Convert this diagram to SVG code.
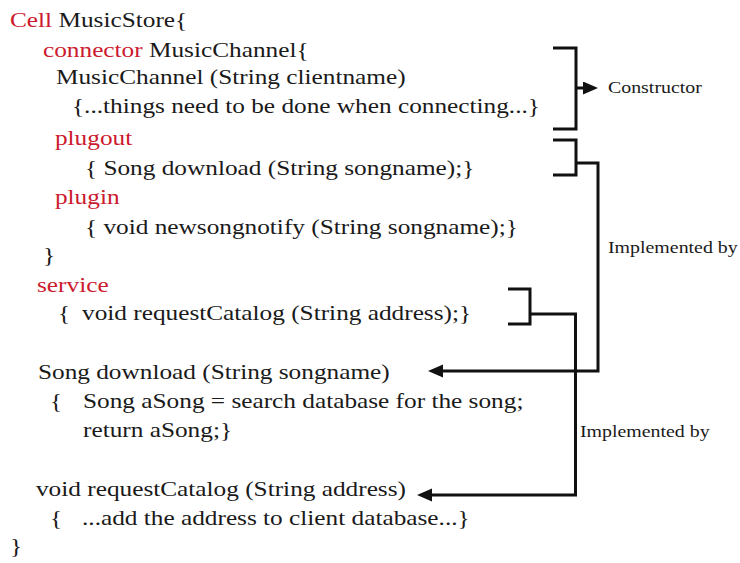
<svg xmlns="http://www.w3.org/2000/svg" width="740" height="563" viewBox="0 0 740 563">
  <style>
    .code { font-family: "Liberation Serif", "Times New Roman", serif; font-size: 22px; fill: #1a1a1a; }
    .kw { fill: #cc1a2e; }
    .note { font-family: "Liberation Serif", "Times New Roman", serif; font-size: 17.3px; fill: #1a1a1a; }
    .wire { fill: none; stroke: #111; stroke-width: 3; stroke-linejoin: miter; }
  </style>
  <defs>
    <marker id="head" markerUnits="userSpaceOnUse" markerWidth="16" markerHeight="14" refX="1" refY="6.5" orient="auto">
      <path d="M0,0 L15,6.5 L0,13 Z" fill="#111"/>
    </marker>
  </defs>
  <rect width="740" height="563" fill="#ffffff"/>

  <!-- text is set in a horizontally widened serif -->
  <g transform="scale(1.15 1)">
    <g id="cell-header">
      <text class="code" x="8.7" y="27"><tspan class="kw">Cell</tspan> MusicStore{</text>
    </g>
    <g id="connector-block">
      <text class="code" x="37.4" y="57"><tspan class="kw">connector</tspan> MusicChannel{</text>
      <text class="code" x="48.7" y="84">MusicChannel (String clientname)</text>
      <text class="code" x="62.6" y="113">{...things need to be done when connecting...}</text>
      <text class="code kw" x="47.8" y="145">plugout</text>
      <text class="code" x="73.9" y="175">{ Song download (String songname);}</text>
      <text class="code kw" x="47.8" y="204">plugin</text>
      <text class="code" x="73.9" y="234">{ void newsongnotify (String songname);}</text>
      <text class="code" x="37.4" y="262">}</text>
    </g>
    <g id="service-block">
      <text class="code kw" x="32.2" y="292">service</text>
      <text class="code" x="50.4" y="320">{</text>
      <text class="code" x="71.3" y="320">void requestCatalog (String address);}</text>
    </g>
    <g id="download-impl">
      <text class="code" x="33" y="379">Song download (String songname)</text>
      <text class="code" x="43.5" y="408">{</text>
      <text class="code" x="72.2" y="408">Song aSong = search database for the song;</text>
      <text class="code" x="72.2" y="437">return aSong;}</text>
    </g>
    <g id="catalog-impl">
      <text class="code" x="31.3" y="496">void requestCatalog (String address)</text>
      <text class="code" x="43.5" y="525">{</text>
      <text class="code" x="71.3" y="525">...add the address to client database...}</text>
      <text class="code" x="8.7" y="553">}</text>
    </g>
    <g id="labels">
      <text class="note" x="528.7" y="93">Constructor</text>
      <text class="note" x="528.7" y="253">Implemented by</text>
      <text class="note" x="504.3" y="437">Implemented by</text>
    </g>
  </g>

  <g id="connectors">
    <!-- constructor bracket -->
    <path class="wire" d="M553,48 H576 V129 H553"/>
    <path class="wire" d="M576,88 H584" marker-end="url(#head)"/>
    <!-- plugout bracket to its implementation -->
    <path class="wire" d="M553,140 H576 V175 H553"/>
    <path class="wire" d="M576,163 H598 V371 H442" marker-end="url(#head)"/>
    <!-- service bracket to its implementation -->
    <path class="wire" d="M508,289 H530 V324 H508"/>
    <path class="wire" d="M530,314 H575.5 V495 H431" marker-end="url(#head)"/>
  </g>
</svg>
